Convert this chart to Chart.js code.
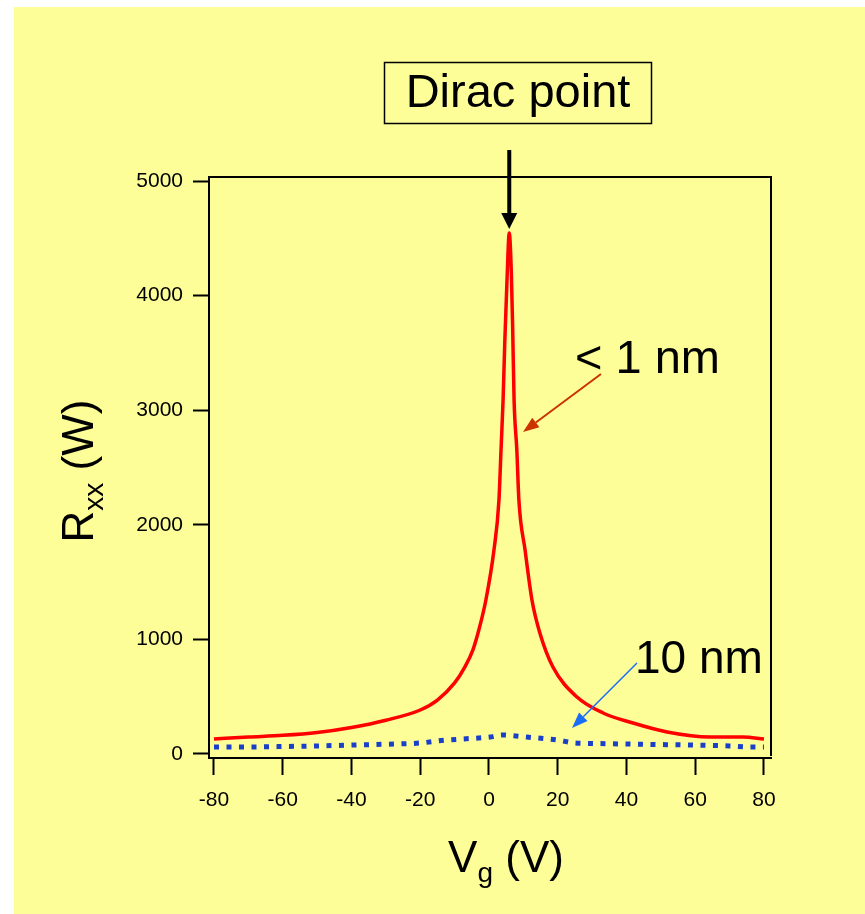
<!DOCTYPE html>
<html>
<head>
<meta charset="utf-8">
<script src="https://cdn.jsdelivr.net/npm/chart.js@4.4.1/dist/chart.umd.min.js"></script>
<style>
  html, body { margin: 0; padding: 0; background: #ffffff; }
  canvas { display: block; }
</style>
</head>
<body>
<canvas id="rxxChart" width="865" height="914"></canvas>
<script>
// --- données ---
const vgThin = [-80, -70, -60, -50, -40, -30, -20, -15, -10, -7, -4.7, -2.8, -0.9, 1.45, 2.9, 3.5, 4.1, 4.6, 5.2, 5.9, 6.5, 6.9, 7.3, 8.1, 8.7, 10.5, 12.5, 14.8, 18.6, 25.6, 33.2, 41.9, 51.8, 64.3, 73.9, 80];
const rxxThin = [131, 148, 163, 188, 232, 295, 384, 471, 620, 760, 907, 1100, 1344, 1780, 2216, 2653, 3089, 3600, 4100, 4546, 4200, 3700, 3089, 2653, 2216, 1780, 1344, 1056, 759, 497, 358, 270, 192, 148, 148, 131];

const vgThick = [-80, -70, -60, -50, -40, -30, -20, -13, -7.6, 0.3, 3.8, 7, 11, 16, 20, 25, 30, 40, 50, 60, 70, 76, 80];
const rxxThick = [61, 61, 65, 70, 78, 85, 96, 120, 131, 148, 166, 160, 148, 135, 122, 96, 92, 87, 82, 78, 70, 61, 61];

const xTicks = [-80, -60, -40, -20, 0, 20, 40, 60, 80];
const yTicks = [0, 1000, 2000, 3000, 4000, 5000];
const diracVg = 5.9;

const police = '"Liberation Sans", Arial, Helvetica, sans-serif';

const toPoints = (xs, ys) => xs.map((x, i) => ({ x: x, y: ys[i] }));

// --- fond, cadre, annotations ---
const decorPlugin = {
    id: 'decor',
    beforeDraw(chart) {
        const c = chart.ctx;
        c.save();
        c.fillStyle = '#ffffff';
        c.fillRect(0, 0, chart.width, chart.height);
        c.fillStyle = '#fefe99';
        c.fillRect(14, 7, chart.width - 14, chart.height - 7);
        c.restore();
    },
    afterDraw(chart) {
        const c = chart.ctx;
        const a = chart.chartArea;
        const xs = chart.scales.x;
        c.save();

        // cadre haut et droit
        c.strokeStyle = '#000';
        c.lineWidth = 2;
        c.beginPath();
        c.moveTo(a.left, a.top);
        c.lineTo(a.right, a.top);
        c.lineTo(a.right, a.bottom - 2);
        c.stroke();

        // boîte "Dirac point"
        c.lineWidth = 1.5;
        c.strokeRect(384.5, 62.5, 267, 61);
        c.fillStyle = '#000';
        c.font = '47px ' + police;
        c.textAlign = 'center';
        c.textBaseline = 'alphabetic';
        c.fillText('Dirac point', 518, 107);

        // flèche noire vers le pic
        const px = xs.getPixelForValue(diracVg);
        drawArrow(c, px, 150, px, 229, '#000', 4, 16, 16);

        // étiquettes des courbes
        c.textAlign = 'left';
        c.font = '47px ' + police;
        c.fillText('< 1 nm', 575, 373);
        c.font = '46px ' + police;
        c.fillText('10 nm', 635, 673);
        drawArrow(c, 601, 374, 523, 432, '#cc3300', 2, 16, 12);
        drawArrow(c, 637, 663, 572, 728, '#1a6ef5', 1.5, 16, 12);

        // titres des axes
        const main = '44px ' + police;
        const sub = '28px ' + police;
        // V_g (V)
        c.font = main;
        const wV = c.measureText('V').width;
        c.font = sub;
        const wg = c.measureText('g').width;
        c.font = main;
        const wRest = c.measureText(' (V)').width;
        let x0 = 506 - (wV + wg + wRest) / 2;
        c.fillText('V', x0, 872);
        c.font = sub;
        c.fillText('g', x0 + wV, 882);
        c.font = main;
        c.fillText(' (V)', x0 + wV + wg, 872);

        // R_xx (W), vertical
        c.translate(93, 471);
        c.rotate(-Math.PI / 2);
        c.font = main;
        const wR = c.measureText('R').width;
        c.font = sub;
        const wxx = c.measureText('xx').width;
        c.font = main;
        const wW = c.measureText(' (W)').width;
        x0 = -(wR + wxx + wW) / 2;
        c.fillText('R', x0, 0);
        c.font = sub;
        c.fillText('xx', x0 + wR, 10);
        c.font = main;
        c.fillText(' (W)', x0 + wR + wxx, 0);

        c.restore();
    }
};

function drawArrow(c, x1, y1, x2, y2, color, width, headLen, headWidth) {
    const ang = Math.atan2(y2 - y1, x2 - x1);
    const bx = x2 - headLen * Math.cos(ang);
    const by = y2 - headLen * Math.sin(ang);
    c.save();
    c.strokeStyle = color;
    c.fillStyle = color;
    c.lineWidth = width;
    c.beginPath();
    c.moveTo(x1, y1);
    c.lineTo(bx, by);
    c.stroke();
    const nx = -Math.sin(ang) * headWidth / 2;
    const ny = Math.cos(ang) * headWidth / 2;
    c.beginPath();
    c.moveTo(x2, y2);
    c.lineTo(bx + nx, by + ny);
    c.lineTo(bx - nx, by - ny);
    c.closePath();
    c.fill();
    c.restore();
}

const ctx = document.getElementById('rxxChart').getContext('2d');
const rxxChart = new Chart(ctx, {
    type: 'line',
    data: {
        datasets: [
            {
                label: '< 1 nm',
                data: toPoints(vgThin, rxxThin),
                borderColor: '#ff0000',
                borderWidth: 3.5,
                pointRadius: 0,
                cubicInterpolationMode: 'monotone',
                fill: false
            },
            {
                label: '10 nm',
                data: toPoints(vgThick, rxxThick),
                borderColor: '#1a3fc8',
                borderWidth: 5,
                borderDash: [5, 7.5],
                pointRadius: 0,
                cubicInterpolationMode: 'monotone',
                fill: false
            }
        ]
    },
    options: {
        responsive: false,
        animation: false,
        devicePixelRatio: 1,
        layout: { padding: { left: 0, top: 177, right: 94, bottom: 0 } },
        plugins: {
            legend: { display: false },
            tooltip: { enabled: false }
        },
        scales: {
            x: {
                type: 'linear',
                min: -81.45,
                max: 82.04,
                afterBuildTicks: (s) => { s.ticks = xTicks.map(v => ({ value: v })); },
                afterFit: (s) => { s.height = 914 - 758; },
                grid: {
                    drawOnChartArea: false,
                    drawTicks: true,
                    tickLength: 17,
                    tickWidth: 2,
                    tickColor: '#000'
                },
                border: { display: true, color: '#000', width: 2 },
                ticks: {
                    color: '#000',
                    padding: 13,
                    maxRotation: 0,
                    autoSkip: false,
                    callback: (v) => String(v),
                    font: { family: police, size: 21 }
                }
            },
            y: {
                type: 'linear',
                min: -35,
                max: 5035,
                afterBuildTicks: (s) => { s.ticks = yTicks.map(v => ({ value: v })); },
                afterFit: (s) => { s.width = 209; },
                grid: {
                    drawOnChartArea: false,
                    drawTicks: true,
                    tickLength: 16,
                    tickWidth: 2,
                    tickColor: '#000'
                },
                border: { display: true, color: '#000', width: 2 },
                ticks: {
                    color: '#000',
                    padding: 10,
                    autoSkip: false,
                    callback: (v) => String(v),
                    font: { family: police, size: 21 }
                }
            }
        }
    },
    plugins: [decorPlugin]
});
</script>
</body>
</html>
